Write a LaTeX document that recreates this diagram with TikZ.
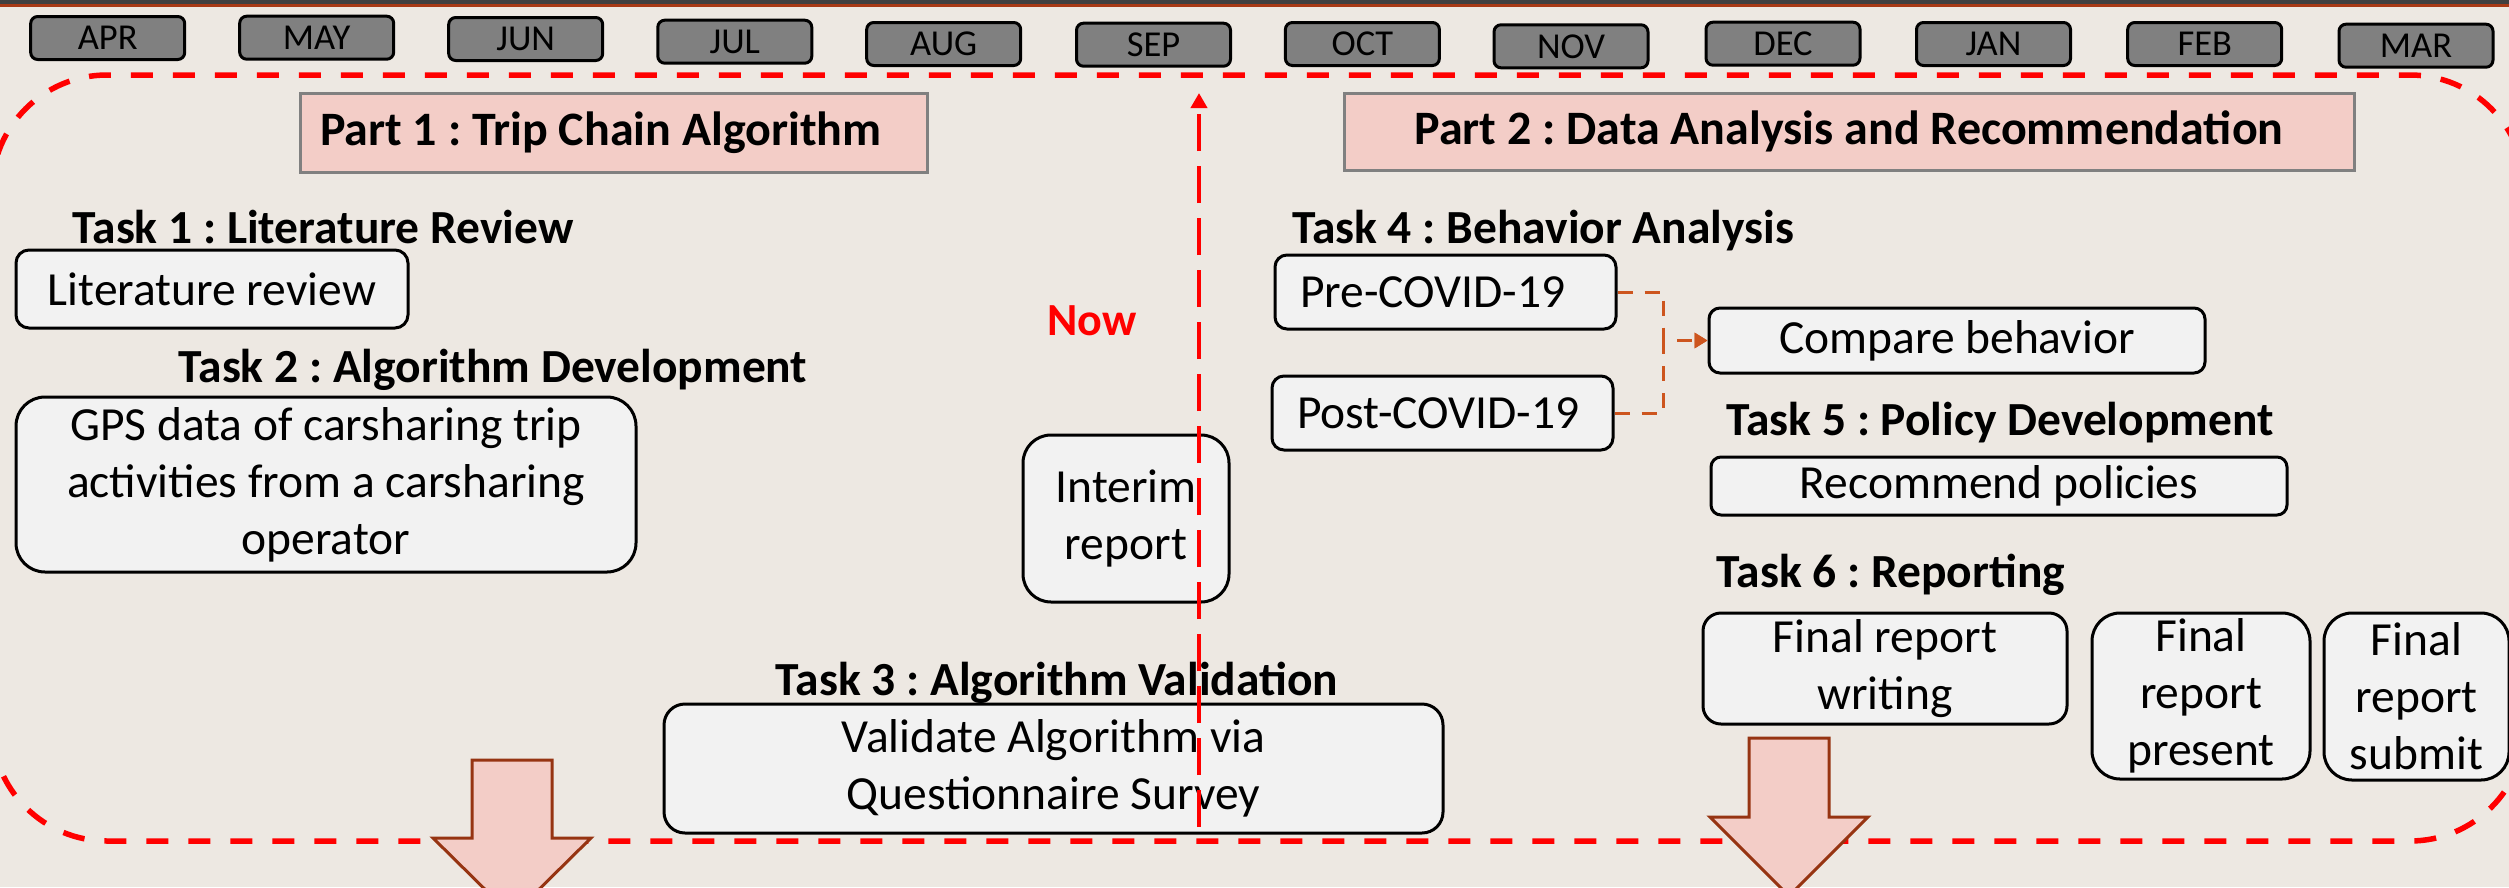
\documentclass[tikz,border=0pt]{standalone}
\usepackage{fontspec}
\setmainfont{Carlito}
\usetikzlibrary{arrows.meta}
\frenchspacing

\definecolor{bgbeige}{RGB}{237,232,226}
\definecolor{topdark}{RGB}{64,64,64}
\definecolor{topred}{RGB}{168,58,22}
\definecolor{monthgray}{RGB}{128,128,128}
\definecolor{boxfill}{RGB}{242,242,242}
\definecolor{partpink}{RGB}{243,205,199}
\definecolor{partedge}{RGB}{128,128,128}
\definecolor{connorange}{RGB}{205,85,30}
\definecolor{arrowedge}{RGB}{150,52,18}

\begin{document}
\begin{tikzpicture}[x=1pt,y=-1pt,
  month/.style={draw=black, line width=3pt, fill=monthgray, rounded corners=7pt,
    minimum width=154pt, minimum height=43pt, inner sep=0pt,
    font=\fontsize{36.5pt}{42pt}\selectfont},
  partbox/.style={draw=partedge, line width=3pt, fill=partpink, inner sep=0pt,
    font=\bfseries\fontsize{48pt}{57pt}\selectfont},
  tasktitle/.style={anchor=base, inner sep=0pt,
    font=\bfseries\fontsize{47.5pt}{57pt}\selectfont},
  tbox/.style={draw=black, line width=3pt, fill=boxfill, inner sep=0pt, align=center,
    font=\fontsize{47.5pt}{57pt}\selectfont},
  conn/.style={draw=connorange, line width=3pt, dash pattern=on 15pt off 12pt,
    -{Triangle[length=13pt,width=15pt]}},
  nowline/.style={draw=red, line width=4pt, dash pattern=on 37pt off 15pt,
    -{Triangle[length=15pt,width=16pt]}},
  bigframe/.style={draw=red, line width=5.5pt, dash pattern=on 22pt off 20pt},
  blockarrow/.style={draw=arrowedge, line width=3pt, fill=partpink, line join=miter}
]
% canvas
\useasboundingbox (0,0) rectangle (2509,887);
\clip (0,0) rectangle (2509,887);
\fill[bgbeige] (0,0) rectangle (2509,887);
\fill[topdark] (0,0) rectangle (2509,4);
\fill[topred] (0,4) rectangle (2509,7);

% months
\node[month] (m1)  at (107.7,38.0) {APR};
\node[month] (m2)  at (316.7,37.7) {MAY};
\node[month] (m3)  at (525.7,39.0) {JUN};
\node[month] (m4)  at (734.8,41.7) {JUL};
\node[month] (m5)  at (943.7,44.0) {AUG};
\node[month] (m6)  at (1153.5,44.7) {SEP};
\node[month] (m7)  at (1362.4,44.0) {OCT};
\node[month] (m8)  at (1571.0,46.3) {NOV};
\node[month] (m9)  at (1783.0,43.7) {DEC};
\node[month] (m10) at (1993.5,44.0) {JAN};
\node[month] (m11) at (2204.7,44.0) {FEB};
\node[month] (m12) at (2416.0,45.7) {MAR};

% project frame
\draw[bigframe, rounded corners=115pt] (-8,75) rectangle (2525,841);

% part headers
\node[partbox, minimum width=627pt, minimum height=79pt, text width=587pt,
  inner xsep=20pt, align=flush left] (p1) at (613.5,132.5) {Part 1 : Trip Chain Algorithm};
\node[partbox, minimum width=1010pt, minimum height=77pt] (p2) at (1849,131.5)
  {Part 2 : Data Analysis and Recommendation};

% task titles
\node[tasktitle] (t1) at (323,243) {Task 1 : Literature Review};
\node[tasktitle] (t2) at (493,382) {Task 2 : Algorithm Development};
\node[tasktitle] (t3) at (1057,695) {Task 3 : Algorithm Validation};
\node[tasktitle] (t4) at (1543,243) {Task 4 : Behavior Analysis};
\node[tasktitle] (t5) at (2000,435) {Task 5 : Policy Development};
\node[tasktitle] (t6) at (1891,587) {Task 6 : Reporting};

\node[anchor=base, inner sep=0pt, text=red,
  font=\bfseries\fontsize{46pt}{55pt}\selectfont] (now) at (1092,335) {Now};

% activity boxes
\node[tbox, rounded corners=13pt, minimum width=392pt, minimum height=78pt] (lit)
  at (212,289) {Literature review};
\node[tbox, rounded corners=29pt, minimum width=620pt, minimum height=175pt] (gps)
  at (326,484.5) {GPS data of carsharing trip\\activities from a carsharing\\operator};
\node[tbox, rounded corners=28pt, minimum width=206pt, minimum height=167pt] (interim)
  at (1126,518.5) {Interim\\report};
\node[tbox, rounded corners=21pt, minimum width=779pt, minimum height=129pt] (valid)
  at (1053.5,768.5) {Validate Algorithm via\\Questionnaire Survey};
\node[tbox, rounded corners=12pt, minimum width=341pt, minimum height=74pt,
  text width=291pt, inner xsep=25pt, align=flush left] (pre) at (1445.5,292) {Pre-COVID-19};
\node[tbox, rounded corners=12pt, minimum width=341pt, minimum height=74pt,
  text width=291pt, inner xsep=25pt, align=flush left] (post) at (1442.5,413) {Post-COVID-19};
\node[tbox, rounded corners=11pt, minimum width=496pt, minimum height=65pt] (cmp)
  at (1957,340.5) {Compare behavior};
\node[tbox, rounded corners=10pt, minimum width=576pt, minimum height=58pt] (rec)
  at (1999,486) {Recommend policies};
\node[tbox, rounded corners=18pt, minimum width=364pt, minimum height=111pt] (fwrite)
  at (1885,668.5) {Final report\\writing};
\node[tbox, rounded corners=28pt, minimum width=218pt, minimum height=166pt] (fpres)
  at (2201,696) {Final\\report\\present};
\node[tbox, rounded corners=28pt, minimum width=185pt, minimum height=167pt] (fsub)
  at (2416.5,696.5) {Final\\report\\submit};

% behaviour comparison connectors
\coordinate (merge) at (1663,340.5);
\draw[conn] (pre.east) -| (merge) -- (cmp.west);
\draw[conn] (post.east) -| (merge) -- (cmp.west);

% current-date marker
\coordinate (nowbot) at (1199,827);
\coordinate (nowtop) at (1199,93);
\draw[nowline] (nowbot) -- (nowtop);

% phase arrows
\draw[blockarrow] (472,760) -- (552,760) -- (552,838) -- (591,838) -- (512,916)
  -- (433,838) -- (472,838) -- cycle;
\draw[blockarrow] (1749,738) -- (1829,738) -- (1829,817) -- (1868,817) -- (1789,896)
  -- (1710,817) -- (1749,817) -- cycle;
\end{tikzpicture}
\end{document}
